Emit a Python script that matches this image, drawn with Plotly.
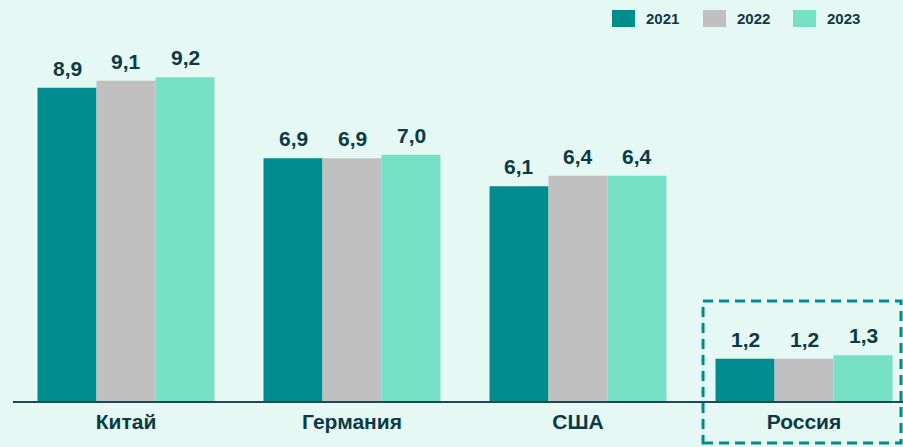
import plotly.graph_objects as go

categories = ["Китай", "Германия", "США", "Россия"]
years = ["2021", "2022", "2023"]
values_2021 = [8.9, 6.9, 6.1, 1.2]
values_2022 = [9.1, 6.9, 6.4, 1.2]
values_2023 = [9.2, 7.0, 6.4, 1.3]
series = [values_2021, values_2022, values_2023]
colors = ["#008b8f", "#c0c0c0", "#77e1c5"]

BG = "#e5f8f3"
TXT = "#0b3a47"
FONT = "Liberation Sans"

fig = go.Figure()
for name, vals, col in zip(years, series, colors):
    fig.add_trace(go.Bar(
        x=categories, y=vals, name=name,
        marker=dict(color=col, line=dict(width=0)),
        showlegend=False, hoverinfo="skip",
    ))

# value labels above bars
bar_px = 59
for i, vals in enumerate(series):
    for c, v in zip(categories, vals):
        fig.add_annotation(
            x=c, y=v, xref="x", yref="y",
            text=f"{v:.1f}".replace(".", ","),
            showarrow=False, yanchor="bottom",
            xshift=(i - 1) * bar_px, yshift=6,
            font=dict(family=FONT, size=21, color=TXT, weight="bold"),
        )

# custom legend
leg_x0 = [612, 703, 793]
for name, col, lx in zip(years, colors, leg_x0):
    fig.add_shape(type="rect", xref="paper", yref="paper",
                  x0=(lx - 13) / 890, x1=(lx + 23 - 13) / 890,
                  y0=(401 - 27) / 361, y1=(401 - 10) / 361,
                  fillcolor=col, line=dict(width=0), layer="above")
    fig.add_annotation(x=(lx + 32 - 13) / 890, y=(401 - 18.5) / 361,
                       xref="paper", yref="paper", text=name, showarrow=False,
                       xanchor="left", yanchor="middle",
                       font=dict(family=FONT, size=15, color=TXT, weight="bold"))

# dashed highlight box around Россия
fig.add_shape(type="rect", xref="paper", yref="paper",
              x0=(703 - 13) / 890, x1=(901 - 13) / 890,
              y0=(401 - 443) / 361, y1=(401 - 301) / 361,
              line=dict(color="#008b8f", width=3, dash="10px,6px"),
              fillcolor="rgba(0,0,0,0)", layer="above")

fig.update_layout(
    width=903, height=447,
    margin=dict(l=13, r=0, t=40, b=46),
    paper_bgcolor=BG, plot_bgcolor=BG,
    barmode="group", bargap=0.217, bargroupgap=0,
    font=dict(family=FONT, color=TXT),
    xaxis=dict(range=[-0.5, 3.438], showline=True, linecolor="#1f4a55",
               linewidth=2, ticks="", showgrid=False, automargin=False,
               tickfont=dict(family=FONT, size=21, color=TXT, weight="bold"),
               ticklabelstandoff=1),
    yaxis=dict(range=[0, 10.26], visible=False, showgrid=False),
)

fig.write_html("out.html", config={"displayModeBar": False},
               post_script="document.body.style.margin='0';document.body.style.background='%s';" % BG)
